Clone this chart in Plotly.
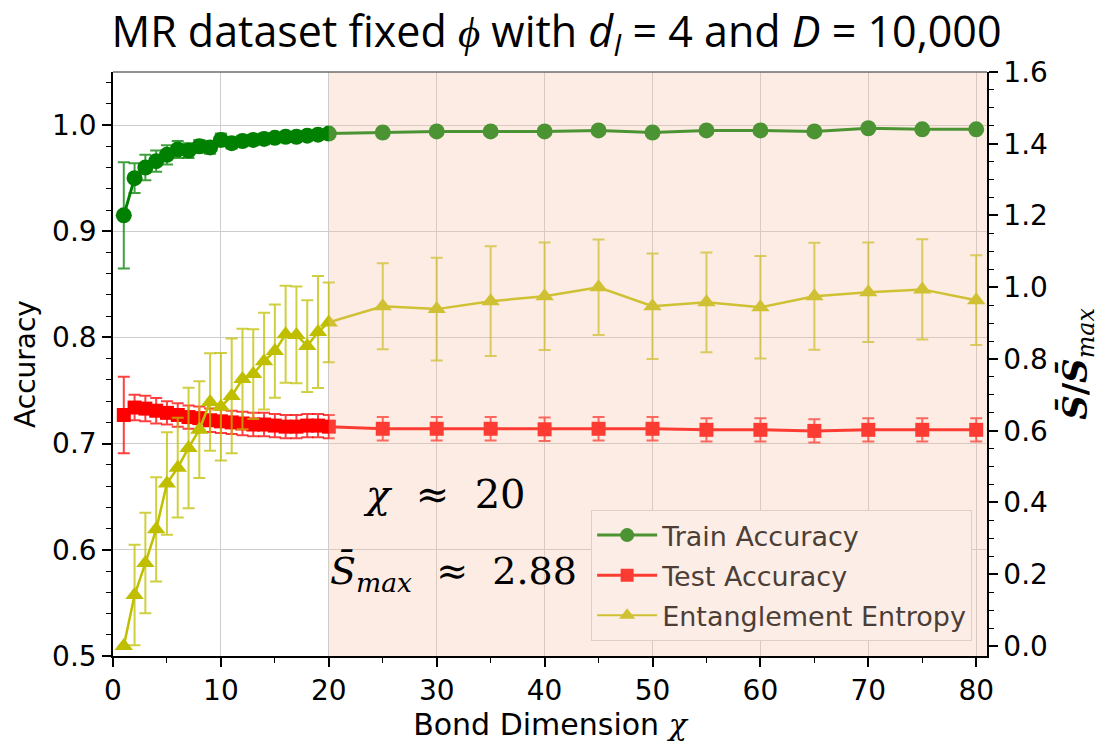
import plotly.graph_objects as go

# Bond dimension values
chi = [1, 2, 3, 4, 5, 6, 7, 8, 9, 10, 11, 12, 13, 14, 15, 16, 17, 18, 19, 20,
       25, 30, 35, 40, 45, 50, 55, 60, 65, 70, 75, 80]

train_acc = [0.915, 0.950, 0.960, 0.966, 0.972, 0.977, 0.976, 0.980, 0.979, 0.986,
             0.983, 0.985, 0.986, 0.987, 0.988, 0.989, 0.989, 0.990, 0.991, 0.992,
             0.993, 0.994, 0.994, 0.994, 0.995, 0.993, 0.995, 0.995, 0.994, 0.997,
             0.996, 0.996]
train_err = [0.050, 0.014, 0.012, 0.010, 0.009, 0.008, 0.007, 0.006, 0.006, 0.006,
             0.005, 0.005, 0.005, 0.005, 0.004, 0.004, 0.004, 0.004, 0.004, 0.004,
             0.003, 0.002, 0.002, 0.003, 0.002, 0.002, 0.002, 0.002, 0.003, 0.002,
             0.002, 0.002]

test_acc = [0.727, 0.734, 0.733, 0.731, 0.729, 0.727, 0.725, 0.724, 0.722, 0.721,
            0.720, 0.719, 0.718, 0.718, 0.717, 0.716, 0.716, 0.717, 0.717, 0.716,
            0.714, 0.714, 0.714, 0.7135, 0.714, 0.714, 0.713, 0.713, 0.712, 0.713,
            0.713, 0.713]
test_err = [0.036, 0.012, 0.012, 0.012, 0.011, 0.011, 0.011, 0.011, 0.011, 0.011,
            0.011, 0.011, 0.011, 0.011, 0.011, 0.011, 0.011, 0.011, 0.011, 0.011,
            0.011, 0.011, 0.011, 0.011, 0.011, 0.011, 0.011, 0.011, 0.011, 0.011,
            0.011, 0.011]

# Normalised entanglement entropy S/S_max
entropy = [0.000, 0.142, 0.231, 0.325, 0.453, 0.497, 0.552, 0.603, 0.680, 0.667,
           0.697, 0.744, 0.758, 0.794, 0.822, 0.869, 0.867, 0.836, 0.875, 0.902,
           0.947, 0.939, 0.961, 0.975, 1.000, 0.947, 0.958, 0.944, 0.975, 0.986,
           0.994, 0.964]
entropy_err = [0.000, 0.140, 0.140, 0.145, 0.143, 0.139, 0.168, 0.135, 0.136, 0.150,
               0.160, 0.140, 0.125, 0.135, 0.130, 0.135, 0.135, 0.128, 0.156, 0.111,
               0.120, 0.143, 0.153, 0.150, 0.133, 0.147, 0.139, 0.143, 0.149, 0.139,
               0.140, 0.125]

x_ticks = [0, 10, 20, 30, 40, 50, 60, 70, 80]
acc_ticks = [0.5, 0.6, 0.7, 0.8, 0.9, 1.0]
ent_ticks = [0.0, 0.2, 0.4, 0.6, 0.8, 1.0, 1.2, 1.4, 1.6]

series_names = ["Train Accuracy", "Test Accuracy", "Entanglement Entropy"]

GREEN = "rgb(0,128,0)"
RED = "rgb(255,0,0)"
YELLOW = "rgb(191,191,0)"
# same colours as seen through the shaded region
GREEN_T = "rgb(76,148,51)"
RED_T = "rgb(252,60,51)"
YELLOW_T = "rgb(208,192,51)"

TICK_FONT = dict(family="DejaVu Sans", size=28, color="black")

fig = go.Figure()

fig.add_trace(go.Scatter(
    x=chi, y=train_acc, mode="lines+markers", showlegend=False,
    line=dict(color=GREEN, width=3),
    marker=dict(symbol="circle", size=16, color=GREEN),
    error_y=dict(type="data", array=train_err, color="rgba(0,128,0,0.75)",
                 thickness=2, width=6),
))
fig.add_trace(go.Scatter(
    x=chi, y=test_acc, mode="lines+markers", showlegend=False,
    line=dict(color=RED, width=3),
    marker=dict(symbol="square", size=14, color=RED),
    error_y=dict(type="data", array=test_err, color="rgba(255,0,0,0.75)",
                 thickness=2, width=6),
))
fig.add_trace(go.Scatter(
    x=chi, y=entropy, mode="lines+markers", showlegend=False, yaxis="y2",
    line=dict(color=YELLOW, width=2.5),
    marker=dict(symbol="triangle-up", size=16, color=YELLOW),
    error_y=dict(type="data", array=entropy_err, color="rgba(191,191,0,0.75)",
                 thickness=2, width=6),
))

# legend entries
for name, col, sym, msize, lw, grp in [
    (series_names[0], GREEN_T, "circle", 14, 3, "a"),
    (series_names[1], RED_T, "square", 13, 3, "b"),
    (series_names[2], YELLOW_T, "triangle-up", 14, 2, "c"),
]:
    fig.add_trace(go.Scatter(
        x=[None], y=[None], mode="lines+markers", name=name, legendgroup=grp,
        line=dict(color=col, width=lw),
        marker=dict(symbol=sym, size=msize, color=col),
    ))

# shaded region beyond the threshold bond dimension
fig.add_shape(type="rect", xref="x", yref="paper", x0=20, x1=81, y0=0, y1=1,
              fillcolor="rgb(245,194,165)", opacity=0.31, layer="above",
              line=dict(width=0))
# top frame line
fig.add_shape(type="line", xref="paper", yref="paper", x0=0, x1=1, y0=1, y1=1,
              line=dict(color="rgb(110,110,110)", width=1.5), layer="above")

fig.add_annotation(
    x=30.7, y=0.653, xref="x", yref="y", showarrow=False,
    text="<i>χ</i>  ≈  20",
    font=dict(family="DejaVu Serif", size=40, color="black"),
)
fig.add_annotation(
    x=19.9, y=0.578, xref="x", yref="y", showarrow=False, xanchor="left",
    text="<i>S\u0304</i><sub><i>max</i></sub>  ≈  2.88",
    font=dict(family="DejaVu Serif", size=38, color="black"),
)

fig.update_layout(
    width=1113, height=742,
    margin=dict(l=113, r=126, t=72, b=84),
    paper_bgcolor="white", plot_bgcolor="white",
    title=dict(
        text="MR dataset fixed <i>ϕ</i> with <i>d<sub>I</sub></i> = 4 and <i>D</i> = 10,000",
        x=0.5, xanchor="center", y=1 - 32 / 742, yanchor="middle",
        font=dict(family="Open Sans", size=43, color="black"),
    ),
    xaxis=dict(
        range=[0, 81], tickvals=x_ticks, ticks="outside", ticklen=9, tickwidth=1.5,
        tickcolor="black", showline=True, linecolor="black", linewidth=1.5,
        showgrid=True, gridcolor="rgb(205,205,205)", gridwidth=1, zeroline=False,
        tickfont=TICK_FONT,
        minor=dict(dtick=5, ticks="outside", ticklen=5, tickwidth=1, tickcolor="black",
                   showgrid=False),
        title=dict(
            text="Bond Dimension <span style=\"font-family:'DejaVu Serif'\"><i>χ</i></span>",
            font=dict(family="DejaVu Sans", size=30, color="black"), standoff=2,
        ),
    ),
    yaxis=dict(
        range=[0.5, 1.05], tickvals=acc_ticks, tickformat=".1f", ticks="outside",
        ticklen=9, tickwidth=1.5, tickcolor="black", showline=True, linecolor="black",
        linewidth=1.5, showgrid=True, gridcolor="rgb(205,205,205)", gridwidth=1,
        zeroline=False, tickfont=TICK_FONT,
        minor=dict(dtick=0.02, tick0=0.5, ticks="outside", ticklen=5, tickwidth=1,
                   tickcolor="black", showgrid=False),
        title=dict(text="Accuracy", font=dict(family="DejaVu Sans", size=28, color="black"),
                   standoff=8),
    ),
    yaxis2=dict(
        overlaying="y", side="right", range=[-0.028, 1.6], tickvals=ent_ticks,
        tickformat=".1f", ticks="outside", ticklen=9, tickwidth=1.5, tickcolor="black",
        showline=True, linecolor="black", linewidth=1.5, showgrid=False, zeroline=False,
        tickfont=TICK_FONT,
        minor=dict(dtick=0.05, tick0=0, ticks="outside", ticklen=5, tickwidth=1,
                   tickcolor="black", showgrid=False),
        title=dict(
            text="<b><i>S\u0304</i>/<i>S\u0304</i></b><sub><i>max</i></sub>",
            font=dict(family="DejaVu Serif", size=34, color="black"), standoff=16,
        ),
    ),
    legend=dict(
        x=0.983, y=0.0256, xanchor="right", yanchor="bottom",
        bgcolor="rgb(252,238,230)", bordercolor="rgb(222,208,200)", borderwidth=1,
        font=dict(family="DejaVu Sans", size=27, color="rgb(76,62,54)"),
        tracegroupgap=2, itemwidth=60,
    ),
)

fig.write_html("out.html")
